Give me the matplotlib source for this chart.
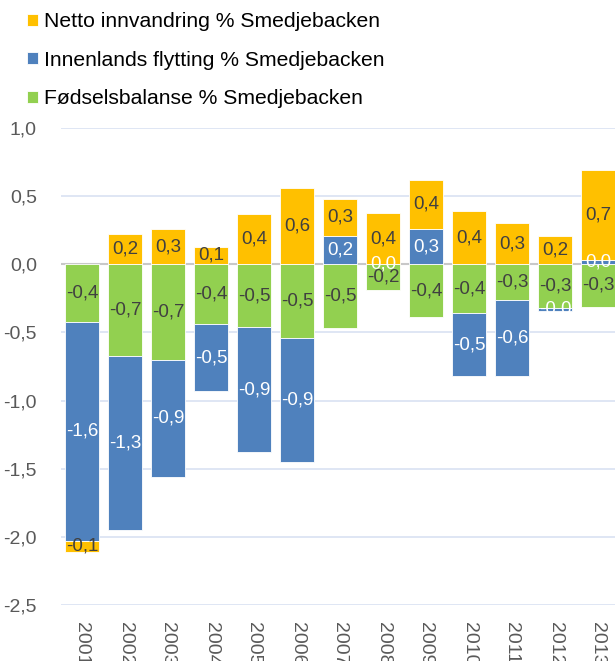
import numpy as np
import matplotlib.pyplot as plt
from matplotlib.ticker import FuncFormatter

plt.rcParams['font.family'] = ['Liberation Sans', 'DejaVu Sans']

years = ['2001', '2002', '2003', '2004', '2005', '2006', '2007',
         '2008', '2009', '2010', '2011', '2012', '2013']

# Fødselsbalanse (green), Innenlands flytting (blue), Netto innvandring (yellow)
fodsel = [-0.42, -0.67, -0.70, -0.44, -0.46, -0.54, -0.47,
          -0.19, -0.39, -0.36, -0.26, -0.32, -0.31]
innenlands = [-1.61, -1.28, -0.86, -0.49, -0.92, -0.91, 0.21,
              0.004, 0.26, -0.46, -0.56, -0.02, 0.03]
netto = [-0.08, 0.22, 0.26, 0.13, 0.37, 0.56, 0.27,
         0.37, 0.36, 0.39, 0.30, 0.21, 0.66]

labels = ['Fødselsbalanse % Smedjebacken',
          'Innenlands flytting % Smedjebacken',
          'Netto innvandring % Smedjebacken']
colors = ['#92D050', '#4F81BD', '#FFC000']
text_colors = ['#404040', 'white', '#404040']

fig = plt.figure(figsize=(6.15, 6.61), dpi=100)
ax = fig.add_axes([60.5 / 615, 1 - 605 / 661, 559 / 615, (605 - 128) / 661])

x = np.arange(len(years))
pos_base = np.zeros(len(years))
neg_base = np.zeros(len(years))
handles = []
for vals, col, tcol, lab in zip([fodsel, innenlands, netto], colors, text_colors, labels):
    vals = np.array(vals)
    base = np.where(vals >= 0, pos_base, neg_base)
    bars = ax.bar(x, vals, 0.77, bottom=base, color=col, edgecolor='white',
                  linewidth=0.6, label=lab, zorder=3)
    handles.append(bars)
    for xi, b, v in zip(x, base, vals):
        ax.text(xi, b + v / 2, f'{v:.1f}'.replace('.', ','), ha='center', va='center',
                fontsize=13.5, color=tcol, zorder=4)
    pos_base = pos_base + np.where(vals >= 0, vals, 0)
    neg_base = neg_base + np.where(vals < 0, vals, 0)

ax.set_xlim(-0.5, len(years) - 0.5)
ax.set_ylim(-2.5, 1.0)
ax.set_yticks(np.arange(-2.5, 1.01, 0.5))
ax.yaxis.set_major_formatter(FuncFormatter(lambda v, p: f'{v:.1f}'.replace('.', ',')))
ax.grid(axis='y', color='#D9E1F2', linewidth=1.2, zorder=0)
ax.axhline(0, color='#C8C8C8', linewidth=1.5, zorder=2)
for s in ax.spines.values():
    s.set_visible(False)
ax.set_xticks(x)
ax.set_xticklabels(years, rotation=270, va='top', ha='center')
ax.tick_params(axis='both', length=0, labelsize=14, labelcolor='#595959')
ax.tick_params(axis='y', pad=17)
ax.tick_params(axis='x', pad=12)

fig.legend(handles[::-1], labels[::-1], loc='upper left', bbox_to_anchor=(0.037, 1 - 8 / 661),
           frameon=False, fontsize=15.2, handlelength=0.5, handleheight=0.5,
           handletextpad=0.3, labelspacing=0.92, borderaxespad=0.0, borderpad=0.2)

fig.savefig('out.png', dpi=100)
